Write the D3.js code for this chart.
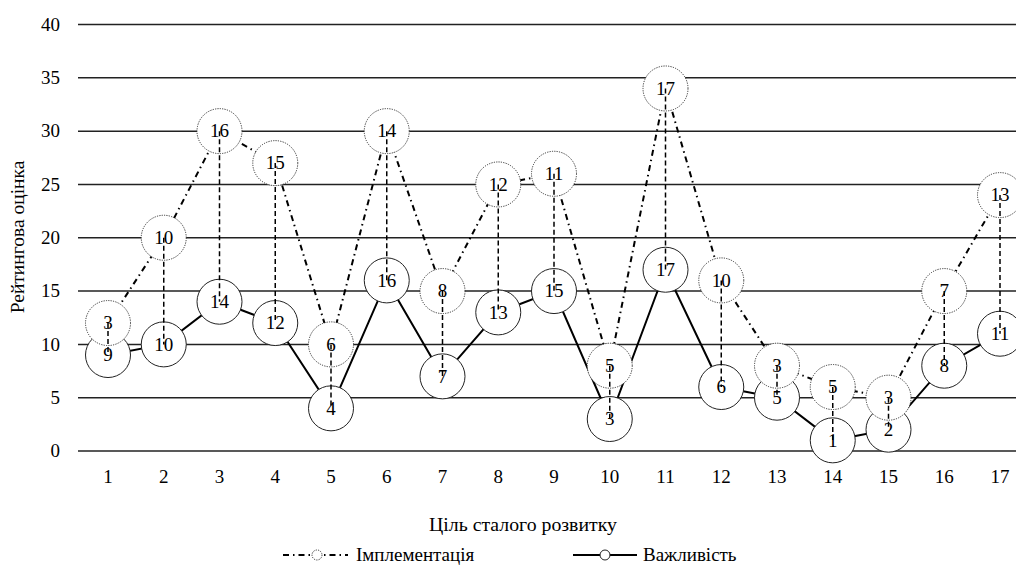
<!DOCTYPE html>
<html><head><meta charset="utf-8">
<script src="https://cdn.jsdelivr.net/npm/d3@7"></script>
<style>
body{margin:0;background:#fff;}
</style></head>
<body>
<svg id="chart" width="1016" height="567" font-family="'Liberation Serif', 'DejaVu Serif', serif"></svg>
<script>
const categories = ["1","2","3","4","5","6","7","8","9","10","11","12","13","14","15","16","17"];
const implementationValues = [12,20,30,27,10,30,15,25,26,8,34,16,8,6,5,15,24];
const implementationRanks = [3,10,16,15,6,14,8,12,11,5,17,10,3,5,3,7,13];
const importanceValues = [9,10,14,12,4,16,7,13,15,3,17,6,5,1,2,8,11];
const importanceRanks = [9,10,14,12,4,16,7,13,15,3,17,6,5,1,2,8,11];
const yTicks = [0,5,10,15,20,25,30,35,40];
const seriesNames = ["Імплементація","Важливість"];
const yTitle = "Рейтингова оцінка";
const xTitle = "Ціль сталого розвитку";

const FS = 19;
const svg = d3.select("#chart");
const x = d3.scalePoint().domain(categories).range([108, 1000]);
const y = d3.scaleLinear().domain([0, 40]).range([451, 24.5]);
const R = 22.5;

svg.append("g").selectAll("line").data(yTicks).join("line")
  .attr("x1", 78).attr("x2", 1016)
  .attr("y1", d => y(d)).attr("y2", d => y(d))
  .attr("stroke", "#222").attr("stroke-width", 1.5);

svg.append("g").selectAll("text").data(yTicks).join("text")
  .attr("x", 60).attr("y", d => y(d)).attr("dy", "0.33em")
  .attr("text-anchor", "end").attr("font-size", FS).text(d => d);

svg.append("g").selectAll("text").data(categories).join("text")
  .attr("x", d => x(d)).attr("y", 483)
  .attr("text-anchor", "middle").attr("font-size", FS).text(d => d);

svg.append("text").attr("transform", "translate(24,237) rotate(-90)")
  .attr("text-anchor", "middle").attr("font-size", 19.5).text(yTitle);
svg.append("text").attr("x", 523).attr("y", 531)
  .attr("text-anchor", "middle").attr("font-size", 19.8).text(xTitle);

const impData = categories.map((c, i) => ({c, v: implementationValues[i], r: implementationRanks[i]}));
const impoData = categories.map((c, i) => ({c, v: importanceValues[i], r: importanceRanks[i]}));
const line = d3.line().x(d => x(d.c)).y(d => y(d.v));

svg.append("path").datum(impoData).attr("d", line)
  .attr("fill", "none").attr("stroke", "#000").attr("stroke-width", 2);
svg.append("path").datum(impData).attr("d", line)
  .attr("fill", "none").attr("stroke", "#000").attr("stroke-width", 2)
  .attr("stroke-dasharray", "6,4,1.5,4");

svg.append("g").selectAll("circle").data(impoData).join("circle")
  .attr("cx", d => x(d.c)).attr("cy", d => y(d.v)).attr("r", R)
  .attr("fill", "#fff").attr("stroke", "#222").attr("stroke-width", 1);
svg.append("g").selectAll("circle").data(impData).join("circle")
  .attr("cx", d => x(d.c)).attr("cy", d => y(d.v)).attr("r", R)
  .attr("fill", "#fff").attr("stroke", "#333").attr("stroke-width", 1)
  .attr("stroke-dasharray", "1.2,1.2");

svg.append("g").selectAll("line").data(categories).join("line")
  .attr("x1", d => x(d)).attr("x2", d => x(d))
  .attr("y1", (d, i) => y(implementationValues[i]))
  .attr("y2", (d, i) => y(importanceValues[i]))
  .attr("stroke", "#000").attr("stroke-width", 1.5).attr("stroke-dasharray", "5,3");

svg.append("g").selectAll("text").data(impoData).join("text")
  .attr("x", d => x(d.c)).attr("y", d => y(d.v)).attr("dy", "0.33em")
  .attr("text-anchor", "middle").attr("font-size", FS).text(d => d.r);
svg.append("g").selectAll("text").data(impData).join("text")
  .attr("x", d => x(d.c)).attr("y", d => y(d.v)).attr("dy", "0.33em")
  .attr("text-anchor", "middle").attr("font-size", FS).text(d => d.r);

const lg = svg.append("g");
lg.append("line").attr("x1", 283).attr("x2", 348).attr("y1", 555).attr("y2", 555)
  .attr("stroke", "#000").attr("stroke-width", 2).attr("stroke-dasharray", "6,4,1.5,4");
lg.append("circle").attr("cx", 317).attr("cy", 555).attr("r", 5)
  .attr("fill", "#fff").attr("stroke", "#333").attr("stroke-dasharray", "1.2,1.2");
lg.append("text").attr("x", 356).attr("y", 555).attr("dy", "0.33em")
  .attr("font-size", FS).text(seriesNames[0]);
lg.append("line").attr("x1", 573).attr("x2", 637).attr("y1", 555).attr("y2", 555)
  .attr("stroke", "#000").attr("stroke-width", 2);
lg.append("circle").attr("cx", 605).attr("cy", 555).attr("r", 5)
  .attr("fill", "#fff").attr("stroke", "#222");
lg.append("text").attr("x", 643).attr("y", 555).attr("dy", "0.33em")
  .attr("font-size", FS).text(seriesNames[1]);
</script>
</body></html>
